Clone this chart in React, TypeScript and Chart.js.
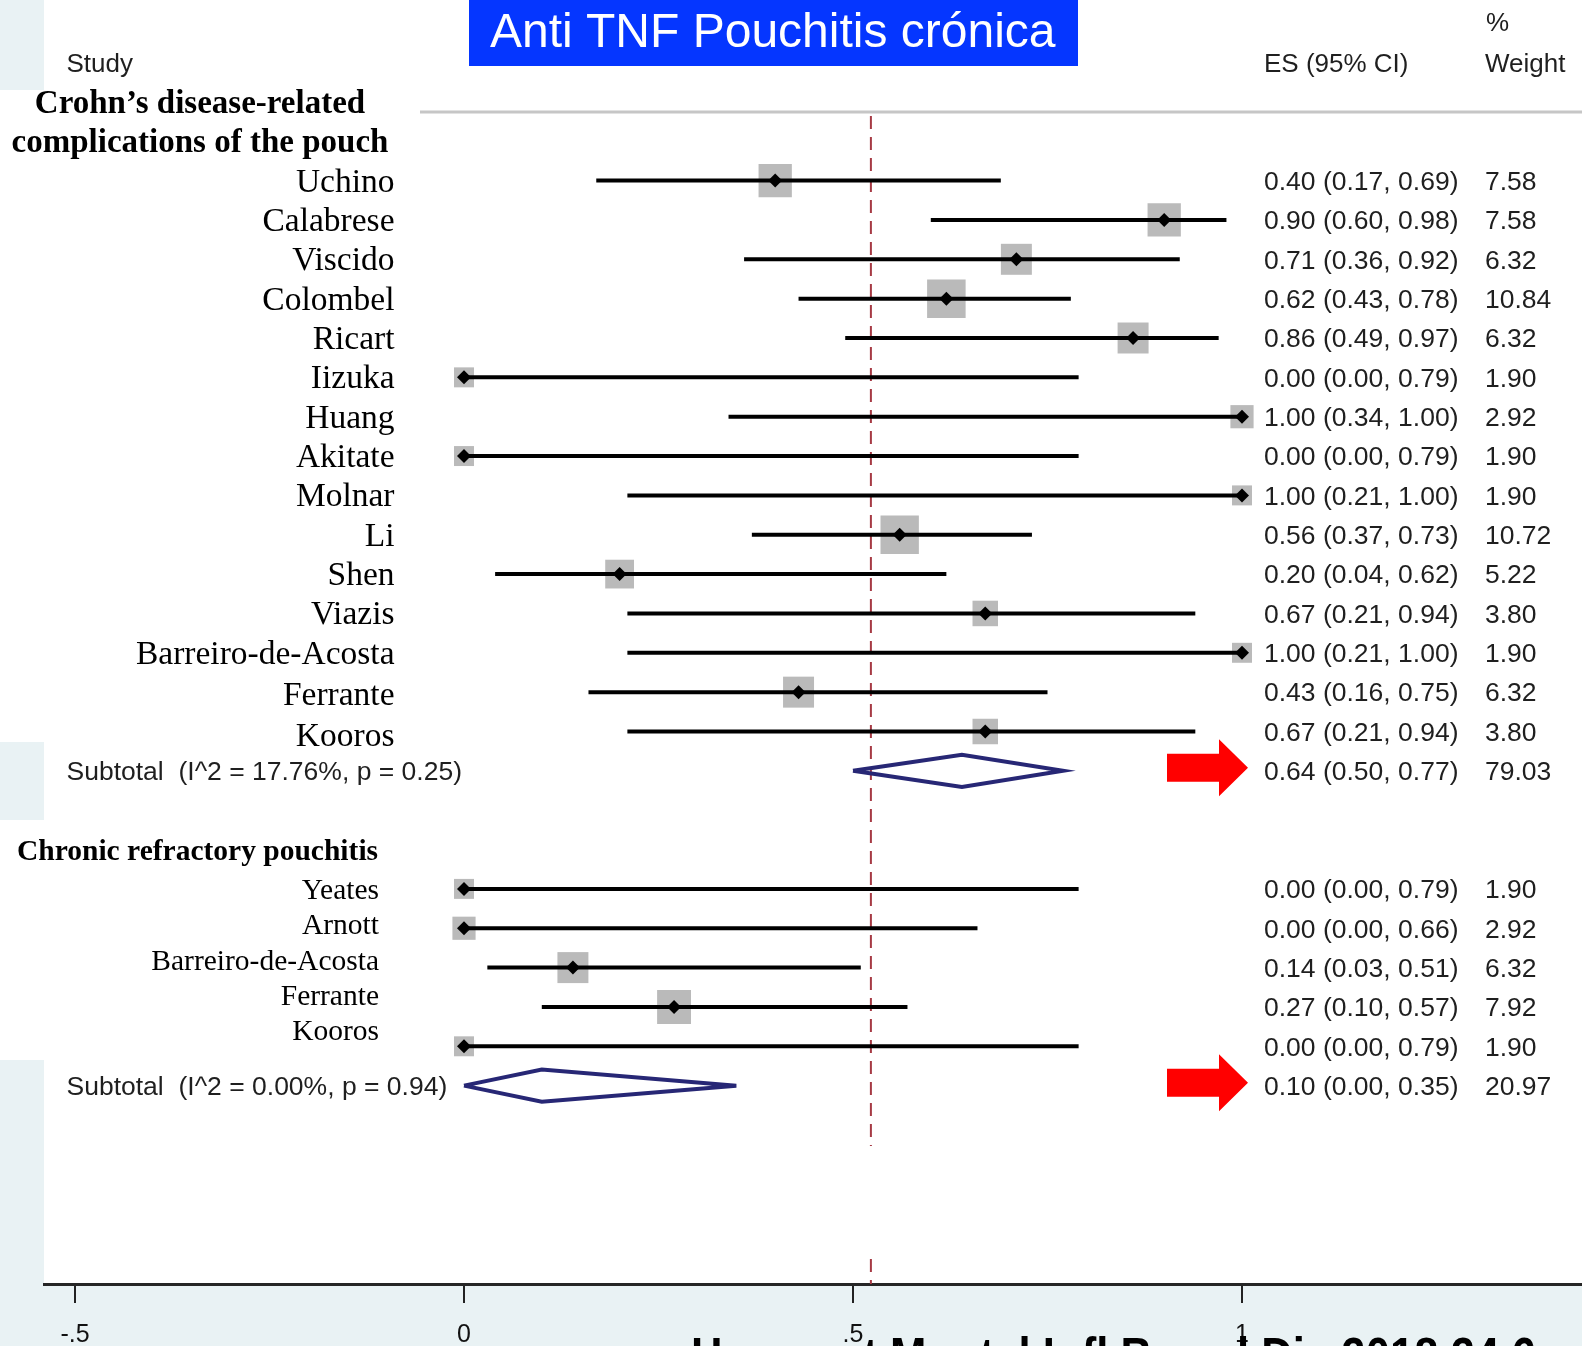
import React, { useEffect, useRef } from 'react';
import { Chart, registerables } from 'chart.js';

Chart.register(...registerables);

// ---------------- DATA ----------------
const STUDIES_CD = ['Uchino', 'Calabrese', 'Viscido', 'Colombel', 'Ricart', 'Iizuka', 'Huang', 'Akitate', 'Molnar', 'Li', 'Shen', 'Viazis', 'Barreiro-de-Acosta', 'Ferrante', 'Kooros'];
const ES_CD = [0.40, 0.90, 0.71, 0.62, 0.86, 0.00, 1.00, 0.00, 1.00, 0.56, 0.20, 0.67, 1.00, 0.43, 0.67];
const LO_CD = [0.17, 0.60, 0.36, 0.43, 0.49, 0.00, 0.34, 0.00, 0.21, 0.37, 0.04, 0.21, 0.21, 0.16, 0.21];
const HI_CD = [0.69, 0.98, 0.92, 0.78, 0.97, 0.79, 1.00, 0.79, 1.00, 0.73, 0.62, 0.94, 1.00, 0.75, 0.94];
const WT_CD = [7.58, 7.58, 6.32, 10.84, 6.32, 1.90, 2.92, 1.90, 1.90, 10.72, 5.22, 3.80, 1.90, 6.32, 3.80];

const STUDIES_CRP = ['Yeates', 'Arnott', 'Barreiro-de-Acosta', 'Ferrante', 'Kooros'];
const ES_CRP = [0.00, 0.00, 0.14, 0.27, 0.00];
const LO_CRP = [0.00, 0.00, 0.03, 0.10, 0.00];
const HI_CRP = [0.79, 0.66, 0.51, 0.57, 0.79];
const WT_CRP = [1.90, 2.92, 6.32, 7.92, 1.90];

const SUBTOTAL_ES = [0.64, 0.10];
const SUBTOTAL_LO = [0.50, 0.00];
const SUBTOTAL_HI = [0.77, 0.35];
const SUBTOTAL_WT = [79.03, 20.97];
const SUBTOTAL_LABELS = ['Subtotal  (I^2 = 17.76%, p = 0.25)', 'Subtotal  (I^2 = 0.00%, p = 0.94)'];

const GROUP_CD_TITLE = ['Crohn\u2019s disease-related', 'complications of the pouch'];
const GROUP_CRP_TITLE = 'Chronic refractory pouchitis';

const OVERALL_ES = 0.523;
const AXIS_TICKS = [-0.5, 0, 0.5, 1];
const AXIS_TICK_LABELS = ['-.5', '0', '.5', '1'];

const TITLE = 'Anti TNF Pouchitis cr\u00f3nica';
const CITATION = 'Huang et Montel Infl Bowel Dis 2018 24 6';

// ---------------- LAYOUT ----------------
const W = 1582;
const H = 1346;
const PX0 = 464;
const PX_PER = 778;
const PLOT_LEFT = 44;
const X_MIN = (PLOT_LEFT - PX0) / PX_PER;
const X_MAX = (W - PX0) / PX_PER;
const ROW0 = 180.6;
const ROW_H = 39.35;
const AXIS_Y = 1284;
const Y_MIN = (0 - ROW0) / ROW_H;
const Y_MAX = (AXIS_Y - ROW0) / ROW_H;
const rowOfPx = (px: number) => (px - ROW0) / ROW_H;

const ROWS_CD = STUDIES_CD.map((_, i) => i);
const ROW_SUB = [15, 23];
const ROW_CRP_HEAD = 17;
const ROWS_CRP = STUDIES_CRP.map((_, i) => 18 + i);

const SERIF = '"Liberation Serif", "Times New Roman", serif';
const SANS = '"Liberation Sans", Arial, sans-serif';
const TEXT_DARK = '#1f1f1f';

const fmt = (v: number) => v.toFixed(2);

const squareSide = (w: number) => 6.6 + 9.7 * Math.sqrt(w);

function buildDatasets() {
  const ds: any[] = [];
  // dashed overall line
  ds.push({
    data: [{ x: OVERALL_ES, y: rowOfPx(116) }, { x: OVERALL_ES, y: rowOfPx(1146) }],
    showLine: true, borderColor: '#a63a44', borderWidth: 2, borderDash: [13, 8],
    pointRadius: 0, order: 10,
  });
  ds.push({
    data: [{ x: OVERALL_ES, y: rowOfPx(1259) }, { x: OVERALL_ES, y: rowOfPx(AXIS_Y) }],
    showLine: true, borderColor: '#a63a44', borderWidth: 2, borderDash: [13, 8],
    pointRadius: 0, order: 10,
  });
  const all = [
    ...ES_CD.map((e, i) => ({ x: e, y: ROWS_CD[i], w: WT_CD[i], lo: LO_CD[i], hi: HI_CD[i] })),
    ...ES_CRP.map((e, i) => ({ x: e, y: ROWS_CRP[i], w: WT_CRP[i], lo: LO_CRP[i], hi: HI_CRP[i] })),
  ];
  // weight squares
  ds.push({
    data: all.map((p) => ({ x: p.x, y: p.y, w: p.w })),
    pointStyle: 'rect',
    pointRadius: (c: any) => (c.raw ? squareSide(c.raw.w) / (2 * Math.SQRT1_2) : 0),
    backgroundColor: '#bababa', borderWidth: 0, order: 5,
  });
  // CI lines
  all.forEach((p) => {
    ds.push({
      data: [{ x: p.lo, y: p.y }, { x: p.hi, y: p.y }],
      showLine: true, borderColor: '#000', borderWidth: 4, pointRadius: 0,
      borderCapStyle: 'butt', order: 3,
    });
  });
  // point estimate diamonds
  ds.push({
    data: all.map((p) => ({ x: p.x, y: p.y })),
    pointStyle: 'rectRot', pointRadius: 7, backgroundColor: '#000', borderWidth: 0, order: 1,
  });
  // subtotal diamonds
  SUBTOTAL_ES.forEach((e, i) => {
    const r = ROW_SUB[i];
    ds.push({
      data: [
        { x: SUBTOTAL_LO[i], y: r },
        { x: e, y: r - 0.41 },
        { x: SUBTOTAL_HI[i], y: r },
        { x: e, y: r + 0.41 },
        { x: SUBTOTAL_LO[i], y: r },
      ],
      showLine: true, borderColor: '#272775', borderWidth: 4, pointRadius: 0,
      borderJoinStyle: 'miter', tension: 0, order: 2,
    });
  });
  return ds;
}

const bgPlugin = {
  id: 'bgPlugin',
  beforeDraw(chart: any) {
    const ctx = chart.ctx;
    ctx.save();
    ctx.fillStyle = '#ffffff';
    ctx.fillRect(0, 0, W, H);
    ctx.fillStyle = '#e9f2f4';
    ctx.fillRect(0, 0, PLOT_LEFT, 90);
    ctx.fillRect(0, 742, PLOT_LEFT, 78);
    ctx.fillRect(0, 1060, PLOT_LEFT, H - 1060);
    ctx.fillRect(0, AXIS_Y + 1, W, H - AXIS_Y);
    // header separator line
    ctx.strokeStyle = '#c6c6c6';
    ctx.lineWidth = 3;
    ctx.beginPath();
    ctx.moveTo(420, 112);
    ctx.lineTo(W, 112);
    ctx.stroke();
    ctx.restore();
  },
};

const textPlugin = {
  id: 'textPlugin',
  afterDraw(chart: any) {
    const ctx = chart.ctx;
    const xs = chart.scales.x;
    const ys = chart.scales.y;
    const py = (r: number) => ys.getPixelForValue(r);
    ctx.save();
    ctx.textBaseline = 'alphabetic';

    // column headers
    ctx.fillStyle = TEXT_DARK;
    ctx.font = `26px ${SANS}`;
    ctx.textAlign = 'left';
    ctx.fillText('Study', 66.5, 72);
    ctx.fillText('ES (95% CI)', 1264, 72);
    ctx.fillText('Weight', 1485, 72);
    ctx.fillText('%', 1486, 31);

    // group 1 heading
    ctx.fillStyle = '#000';
    ctx.font = `bold 33px ${SERIF}`;
    ctx.textAlign = 'center';
    ctx.fillText(GROUP_CD_TITLE[0], 200, py(-2) + 11);
    ctx.fillText(GROUP_CD_TITLE[1], 200, py(-1) + 11);

    // group 1 study labels
    ctx.font = `33.5px ${SERIF}`;
    ctx.textAlign = 'right';
    STUDIES_CD.forEach((s, i) => {
      ctx.fillText(s, 394.5, py(ROWS_CD[i]) + 11 + (i >= 13 ? (i - 12) * 1.5 : 0));
    });

    // group 2 heading
    ctx.font = `bold 29.5px ${SERIF}`;
    ctx.textAlign = 'left';
    ctx.fillText(GROUP_CRP_TITLE, 17, py(ROW_CRP_HEAD) + 10);

    // group 2 study labels (pasted with a tighter spacing)
    ctx.font = `29.5px ${SERIF}`;
    ctx.textAlign = 'right';
    STUDIES_CRP.forEach((s, i) => {
      const y0 = py(ROWS_CRP[0]);
      ctx.fillText(s, 379, y0 + i * 35.3 + 10);
    });

    // subtotal labels
    ctx.fillStyle = TEXT_DARK;
    ctx.font = `26.5px ${SANS}`;
    ctx.textAlign = 'left';
    SUBTOTAL_LABELS.forEach((l, i) => ctx.fillText(l, 66.5, py(ROW_SUB[i]) + 9.3));

    // right-hand columns
    type Row = [number, number, number, number, number];
    const rightRows: Row[] = [
      ...ES_CD.map((e, i) => [ROWS_CD[i], e, LO_CD[i], HI_CD[i], WT_CD[i]] as Row),
      [ROW_SUB[0], SUBTOTAL_ES[0], SUBTOTAL_LO[0], SUBTOTAL_HI[0], SUBTOTAL_WT[0]],
      ...ES_CRP.map((e, i) => [ROWS_CRP[i], e, LO_CRP[i], HI_CRP[i], WT_CRP[i]] as Row),
      [ROW_SUB[1], SUBTOTAL_ES[1], SUBTOTAL_LO[1], SUBTOTAL_HI[1], SUBTOTAL_WT[1]],
    ];
    ctx.fillStyle = TEXT_DARK;
    ctx.font = `26.5px ${SANS}`;
    rightRows.forEach(([r, e, lo, hi, w]) => {
      const y = py(r) + 9.3;
      ctx.fillText(`${fmt(e)} (${fmt(lo)}, ${fmt(hi)})`, 1264, y);
      ctx.fillText(fmt(w), 1485, y);
    });

    // red arrows at subtotals
    ctx.fillStyle = '#ff0000';
    ROW_SUB.forEach((r) => {
      const y = py(r) - 3;
      ctx.beginPath();
      ctx.moveTo(1167, y - 14);
      ctx.lineTo(1219, y - 14);
      ctx.lineTo(1219, y - 28.5);
      ctx.lineTo(1248, y);
      ctx.lineTo(1219, y + 28.5);
      ctx.lineTo(1219, y + 14);
      ctx.lineTo(1167, y + 14);
      ctx.closePath();
      ctx.fill();
    });

    // axis tick labels
    ctx.fillStyle = '#111';
    ctx.font = `25px ${SANS}`;
    ctx.textAlign = 'center';
    AXIS_TICKS.forEach((t, i) => {
      ctx.fillText(AXIS_TICK_LABELS[i], xs.getPixelForValue(t), 1342);
    });

    // title box
    ctx.fillStyle = '#0536ff';
    ctx.fillRect(469, 0, 609, 66);
    ctx.fillStyle = '#ffffff';
    ctx.font = `48px ${SANS}`;
    ctx.textAlign = 'left';
    ctx.fillText(TITLE, 490, 47);

    // citation (cut by the bottom edge)
    ctx.save();
    ctx.translate(691, 1374);
    ctx.scale(0.84, 1);
    ctx.fillStyle = '#000';
    ctx.font = `bold 52px ${SANS}`;
    ctx.textAlign = 'left';
    ctx.fillText(CITATION, 0, 0);
    ctx.restore();

    ctx.restore();
  },
};

export default function App() {
  const ref = useRef<HTMLCanvasElement | null>(null);
  useEffect(() => {
    document.body.style.margin = '0';
    document.body.style.overflow = 'hidden';
    const canvas = ref.current;
    if (!canvas) return;
    const chart = new Chart(canvas, {
      type: 'scatter',
      data: { datasets: buildDatasets() },
      options: {
        responsive: false,
        animation: false,
        devicePixelRatio: 1,
        events: [],
        layout: { autoPadding: false, padding: { left: PLOT_LEFT, right: 0, top: 0, bottom: 0 } },
        plugins: { legend: { display: false }, tooltip: { enabled: false } },
        scales: {
          x: {
            type: 'linear',
            position: 'bottom',
            min: X_MIN,
            max: X_MAX,
            afterBuildTicks: (s: any) => {
              s.ticks = AXIS_TICKS.map((v) => ({ value: v }));
            },
            afterFit: (s: any) => {
              s.height = H - AXIS_Y;
            },
            border: { display: true, color: '#262626', width: 3 },
            grid: { drawOnChartArea: false, drawTicks: true, tickLength: 19, color: '#222', lineWidth: 2 },
            ticks: { display: false },
          },
          y: {
            type: 'linear',
            display: false,
            reverse: true,
            min: Y_MIN,
            max: Y_MAX,
          },
        },
      } as any,
      plugins: [bgPlugin, textPlugin],
    });
    return () => chart.destroy();
  }, []);
  return (
    <div style={{ position: 'absolute', left: 0, top: 0, width: W, height: H }}>
      <canvas ref={ref} width={W} height={H} style={{ width: W, height: H, display: 'block' }} />
    </div>
  );
}
